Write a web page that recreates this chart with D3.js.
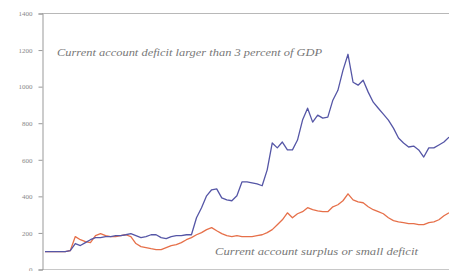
<!DOCTYPE html>
<html lang="en">
<head>
    <meta charset="UTF-8">
    <title>current account chart</title>
    <script src="https://cdn.jsdelivr.net/npm/d3@7"></script>
    <style>
        body { margin: 0; background: #fff; }
        svg { display: block; }
    </style>
</head>
<body>
<script>
    // index values (one value per period)
    const deficit = [98, 98, 98, 98, 98, 103, 142, 131, 147, 163,
        174, 174, 180, 180, 185, 185, 190, 196, 185, 174,
        180, 190, 190, 174, 169, 180, 185, 185, 190, 190,
        283, 338, 403, 436, 441, 392, 381, 376, 403, 479,
        479, 474, 468, 458, 545, 692, 665, 697, 654, 654,
        708, 817, 882, 806, 844, 828, 833, 926, 980, 1089,
        1177, 1024, 1008, 1035, 970, 915, 882, 850, 817, 773,
        719, 692, 670, 675, 654, 615, 665, 665, 681, 697, 724];
    const surplus = [98, 98, 98, 98, 98, 103, 180, 163, 153, 147,
        185, 196, 185, 180, 180, 185, 190, 180, 142, 125,
        120, 114, 109, 109, 120, 131, 136, 147, 163, 174,
        190, 202, 218, 229, 212, 196, 185, 180, 185, 180,
        180, 180, 185, 190, 202, 218, 245, 272, 310, 283,
        305, 316, 338, 327, 321, 316, 316, 343, 354, 376,
        414, 381, 370, 365, 343, 327, 316, 305, 283, 267,
        261, 256, 251, 251, 245, 245, 256, 261, 272, 294, 310];
    const yTicks = [0, 200, 400, 600, 800, 1000, 1200, 1400];
    const labelTop = "Current account deficit larger than 3 percent of GDP";
    const labelBottom = "Current account surplus or small deficit";

    const W = 449, H = 271;
    const svg = d3.select("body").append("svg").attr("width", W).attr("height", H);

    const x = d3.scaleLinear().domain([0, deficit.length - 1]).range([45, 449]);
    const y = d3.scaleLinear().domain([0, 1400]).range([269.5, 13.5]);

    // frame: top rule and bottom axis line
    svg.append("line").attr("x1", 42).attr("x2", W).attr("y1", y(1400)).attr("y2", y(1400))
        .attr("stroke", "#b8b8b8").attr("stroke-width", 1.2);
    svg.append("line").attr("x1", 42).attr("x2", W).attr("y1", y(0)).attr("y2", y(0))
        .attr("stroke", "#c8c8c8");

    const yAxis = svg.append("g").attr("transform", "translate(42.5,0)")
        .call(d3.axisLeft(y).tickValues(yTicks).tickFormat(d3.format("d")).tickSize(4).tickPadding(6));
    yAxis.select(".domain").attr("stroke", "#999");
    yAxis.selectAll(".tick line").attr("stroke", "#999");
    yAxis.selectAll(".tick text").attr("fill", "#888")
        .style("font-family", "'Liberation Serif', serif").style("font-size", "7px");

    const line = d3.line().x((d, i) => x(i)).y(d => y(d));

    svg.append("path").datum(surplus).attr("d", line)
        .attr("fill", "none").attr("stroke", "#e6704a").attr("stroke-width", 1.3)
        .attr("stroke-linejoin", "round");
    svg.append("path").datum(deficit).attr("d", line)
        .attr("fill", "none").attr("stroke", "#5556a6").attr("stroke-width", 1.3)
        .attr("stroke-linejoin", "round");

    svg.append("text").attr("x", 57).attr("y", 56).text(labelTop)
        .attr("textLength", 265).attr("lengthAdjust", "spacingAndGlyphs")
        .attr("fill", "#777").style("font-family", "'Liberation Serif', serif")
        .style("font-style", "italic").style("font-size", "9.5px");
    svg.append("text").attr("x", 215).attr("y", 255).text(labelBottom)
        .attr("textLength", 203).attr("lengthAdjust", "spacingAndGlyphs")
        .attr("fill", "#777").style("font-family", "'Liberation Serif', serif")
        .style("font-style", "italic").style("font-size", "9.5px");
</script>
</body>
</html>
